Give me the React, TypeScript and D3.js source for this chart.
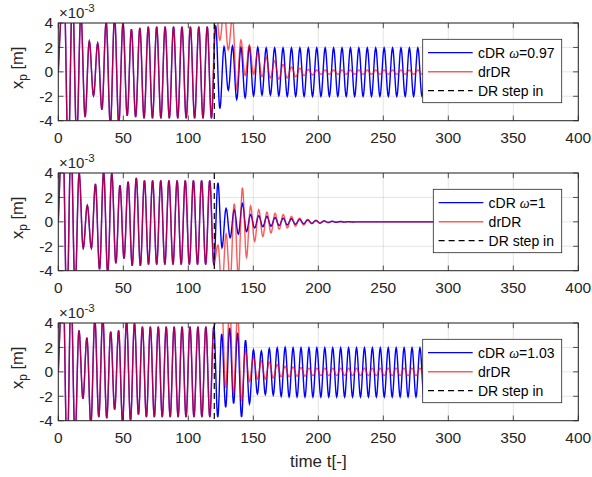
import React from 'react';
import * as d3 from 'd3';

// ---------- data (values in units of 1e-3 m) ----------
const xTicks = [0, 50, 100, 150, 200, 250, 300, 350, 400];
const yTicks = [-4, -2, 0, 2, 4];
const stepTime = 120;
const omegaLabels = ['0.97', '1', '1.03'];
const firstExtremumTimes = [4.4, 3.46, 3.7];
const halfPeriods = [3.24, 3.14, 3.05];

// extrema (alternating peak / trough) before the DR step-in (shared by both series)
const topPre = [7, -7, 6.5, -5.5, 4.8, -3.7, 2.5, -1.95, 2.35, -3.1, 4.1, -4.4, 4.5, -4.3, 4.0, -3.6, 3.5, -3.7,
  3.6, -3.8, 3.7, -3.8, 3.7, -3.8, 3.7, -3.8, 3.7, -3.8, 3.7, -3.8, 3.7, -3.8, 3.7, -3.8, 3.7, -3.8];
const topCdrPost = [3.8, -3.0, 2.05, -1.5, 2.1, -2.25, 2.0, -2.1, 2.05, -1.95, 2.0, -1.9, 1.95, -1.9, 1.95, -1.95,
  1.95, -2.0, 1.95, -2.0, 1.95, -2.0, 1.95, -2.0, 1.95, -2.0, 1.95, -2.0, 1.95, -2.0, 1.95, -2.0, 1.95, -2.0,
  1.95, -2.0, 1.95, -2.0, 1.95, -2.0, 1.95, -2.0, 1.95, -2.0, 1.95, -2.0, 1.95, -2.0, 1.95, -2.0, 1.95, -2.0,
  1.95, -2.0, 1.95, -2.0];
const topDrPost = [5.5, 2.6, 5.2, 1.8, 4.5, -1.4, 2.6, -0.3, 2.2, -0.2, 1.6, -0.4, 1.2, -0.5, 0.9, -0.6, 0.6, -0.5,
  0.4, -0.4, 0.3, -0.3, 0.2, -0.25, 0.15, -0.2, 0.15, -0.2, 0.15, -0.2, 0.15, -0.2, 0.15, -0.2, 0.15, -0.2,
  0.15, -0.2, 0.15, -0.2, 0.15, -0.2, 0.15, -0.2, 0.15, -0.2, 0.15, -0.2, 0.15, -0.2, 0.15, -0.2, 0.15, -0.2,
  0.15, -0.2];

const midPre = [7, -7, 6.5, -5.5, 4.0, -2.15, 1.35, -2.15, 3.1, -3.9, 4.1, -4.2, 4.0, -3.4, 3.0, -3.0, 3.3, -3.6,
  3.6, -3.6, 3.4, -3.5, 3.4, -3.5, 3.4, -3.5, 3.4, -3.5, 3.4, -3.5, 3.4, -3.5, 3.4, -3.5, 3.4, -3.5, 3.4, -3.5];
const midCdrPost = [3.2, -2.1, 1.1, -1.3, 1.0, -1.0, 1.5, -0.8, 0.6, -0.5, 0.5, -0.4, 0.45, -0.35, 0.35, -0.3,
  0.3, -0.25, 0.25, -0.2, 0.2, -0.15, 0.15, -0.12, 0.12, -0.1, 0.08, -0.06, 0.05, -0.04, 0.03, -0.02, 0.02, -0.01,
  0, 0, 0, 0, 0, 0, 0, 0, 0, 0, 0, 0, 0, 0, 0, 0, 0, 0, 0, 0, 0, 0, 0];
const midDrPost = [-1.9, -5.5, -1.0, -5.0, 1.5, -4.5, 2.8, -2.9, 1.3, -1.6, 1.0, -1.2, 0.8, -0.9, 0.7, -0.6,
  0.6, -0.5, 0.45, -0.35, 0.3, -0.25, 0.2, -0.15, 0.1, -0.08, 0.05, -0.03, 0.02, -0.01,
  0, 0, 0, 0, 0, 0, 0, 0, 0, 0, 0, 0, 0, 0, 0, 0, 0, 0, 0, 0, 0, 0, 0, 0, 0, 0, 0];

const botPre = [7, -7, 6.5, -5.5, 3.4, -2.2, 2.8, -4.3, 4.3, -3.7, 4.5, -3.8, 3.3, -3.1, 3.4, -4.1, 4.2, -4.0,
  4.0, -3.5, 3.7, -3.7, 3.7, -3.7, 3.7, -3.7, 3.7, -3.7, 3.7, -3.7, 3.7, -3.7, 3.7, -3.7, 3.7, -3.7, 3.7, -3.7, 3.7];
const botCdrPost = [-3.7, 3.1, -2.9, 3.6, -2.6, 3.2, -3.7, 2.6, -2.6, 1.8, -1.8, 1.7, -1.85, 1.9, -1.9, 1.95,
  -2.0, 2.0, -2.05, 1.95, -2.05, 1.95, -2.05, 1.95, -2.05, 1.95, -2.05, 1.95, -2.05, 1.95, -2.05, 1.95, -2.05,
  1.95, -2.05, 1.95, -2.05, 1.95, -2.05, 1.95, -2.05, 1.95, -2.05, 1.95, -2.05, 1.95, -2.05, 1.95, -2.05, 1.95,
  -2.05, 1.95, -2.05, 1.95, -2.05, 1.95, -2.05, 1.95, -2.05];
const botDrPost = [4.8, 5.5, -1.3, 5.5, -1.8, 4.8, -2.4, 1.7, -0.8, 1.2, -0.6, 0.9, -0.6, 0.8, -0.5, 0.6, -0.4,
  0.45, -0.4, 0.4, -0.35, 0.35, -0.35, 0.3, -0.3, 0.3, -0.3, 0.3, -0.3, 0.3, -0.3, 0.3, -0.3, 0.3, -0.3, 0.3,
  -0.3, 0.3, -0.3, 0.3, -0.3, 0.3, -0.3, 0.3, -0.3, 0.3, -0.3, 0.3, -0.3, 0.3, -0.3, 0.3, -0.3, 0.3, -0.3, 0.3,
  -0.3, 0.3, -0.3];

const preSets = [topPre, midPre, botPre];
const cdrPostSets = [topCdrPost, midCdrPost, botCdrPost];
const drPostSets = [topDrPost, midDrPost, botDrPost];

// ---------- layout ----------
const W = 592, H = 477;
const left = 58.3, right = 578.3;
const panelTops = [23, 173, 323];
const panelH = 97.7;
const legendLefts = [422.7, 433.3, 422.7];
const legendRight = 561.7;
const axisColor = '#262626';
const font = 'Liberation Sans, Arial, Helvetica, sans-serif';

function buildCurve(ext: number[], t0: number, half: number): [number, number][] {
  const pts: [number, number][] = [];
  const n = 10;
  for (let i = 0; i <= n; i++) {
    pts.push([(t0 * i) / n, ext[0] * Math.sin((Math.PI / 2) * (i / n))]);
  }
  for (let k = 0; k < ext.length - 1; k++) {
    const a = ext[k], b = ext[k + 1], ta = t0 + k * half;
    for (let i = 1; i <= n; i++) {
      const s = i / n;
      pts.push([ta + s * half, a + ((b - a) * (1 - Math.cos(Math.PI * s))) / 2]);
    }
  }
  return pts;
}

const x = d3.scaleLinear().domain([0, 400]).range([left, right]);

function Panel({ idx }: { idx: number }) {
  const top = panelTops[idx];
  const bottom = top + panelH;
  const y = d3.scaleLinear().domain([-4, 4]).range([bottom, top]);
  const t0 = firstExtremumTimes[idx];
  const half = halfPeriods[idx];
  const cdr = buildCurve(preSets[idx].concat(cdrPostSets[idx]), t0, half);
  const dr = buildCurve(preSets[idx].concat(drPostSets[idx]), t0, half);
  const line = d3.line<[number, number]>().x(d => x(d[0])).y(d => y(d[1]));
  const clipId = `clip${idx}`;
  const lgL = legendLefts[idx];
  const lgT = top + 16.3;
  const rows = [lgT + 13.4, lgT + 32.4, lgT + 51.4];
  const tick = 5.2;
  return (
    <g>
      <defs>
        <clipPath id={clipId}>
          <rect x={left} y={top} width={right - left} height={panelH} />
        </clipPath>
      </defs>
      <rect x={left} y={top} width={right - left} height={panelH} fill="#fff" />
      {xTicks.map(t => (
        <line key={'gx' + t} x1={x(t)} x2={x(t)} y1={top} y2={bottom} stroke={axisColor} strokeOpacity={0.15} strokeWidth={0.8} />
      ))}
      {yTicks.map(t => (
        <line key={'gy' + t} x1={left} x2={right} y1={y(t)} y2={y(t)} stroke={axisColor} strokeOpacity={0.15} strokeWidth={0.8} />
      ))}
      <g clipPath={`url(#${clipId})`}>
        <path d={line(cdr) || ''} fill="none" stroke="#0000ff" strokeWidth={1.4} />
        <path d={line(dr) || ''} fill="none" stroke="#ff0000" strokeOpacity={0.65} strokeWidth={1.4} />
        <line x1={x(stepTime)} x2={x(stepTime)} y1={top} y2={bottom} stroke="#000" strokeWidth={1.2} strokeDasharray="6,4" />
      </g>
      {/* ticks */}
      {xTicks.map(t => (
        <g key={'tx' + t}>
          <line x1={x(t)} x2={x(t)} y1={bottom} y2={bottom - tick} stroke={axisColor} strokeWidth={0.8} />
          <line x1={x(t)} x2={x(t)} y1={top} y2={top + tick} stroke={axisColor} strokeWidth={0.8} />
          <text x={x(t)} y={bottom + 22.7} textAnchor="middle" fontSize={15.5} fontFamily={font} fill={axisColor}>{t}</text>
        </g>
      ))}
      {yTicks.map(t => (
        <g key={'ty' + t}>
          <line x1={left} x2={left + tick} y1={y(t)} y2={y(t)} stroke={axisColor} strokeWidth={0.8} />
          <line x1={right} x2={right - tick} y1={y(t)} y2={y(t)} stroke={axisColor} strokeWidth={0.8} />
          <text x={53} y={y(t) + 5.4} textAnchor="end" fontSize={15.5} fontFamily={font} fill={axisColor}>{t}</text>
        </g>
      ))}
      <rect x={left} y={top} width={right - left} height={panelH} fill="none" stroke={axisColor} strokeWidth={1} />
      {/* exponent */}
      <text x={59} y={top - 5} fontSize={15} fontFamily={font} fill={axisColor}>
        ×10<tspan dy={-6.5} fontSize={11.5}>-3</tspan>
      </text>
      {/* y label */}
      <text transform={`translate(23,${(top + bottom) / 2 - 4}) rotate(-90)`} textAnchor="middle" fontSize={16.5} fontFamily={font} fill={axisColor}>
        x<tspan dy={4} fontSize={12}>p</tspan><tspan dy={-4}> [m]</tspan>
      </text>
      {/* legend */}
      <rect x={lgL} y={lgT} width={legendRight - lgL} height={63.4} fill="#fff" stroke={axisColor} strokeWidth={0.8} />
      <line x1={lgL + 5.3} x2={lgL + 50} y1={rows[0]} y2={rows[0]} stroke="#0000ff" strokeWidth={1.2} />
      <line x1={lgL + 5.3} x2={lgL + 50} y1={rows[1]} y2={rows[1]} stroke="#ff0000" strokeOpacity={0.65} strokeWidth={1.4} />
      <line x1={lgL + 5.3} x2={lgL + 50} y1={rows[2]} y2={rows[2]} stroke="#000" strokeWidth={1.2} strokeDasharray="6,4" />
      <text x={lgL + 55.3} y={rows[0] + 5} fontSize={14} fontFamily={font} fill="#000">
        cDR <tspan fontStyle="italic" fontFamily="Liberation Serif, serif">ω</tspan>={omegaLabels[idx]}
      </text>
      <text x={lgL + 55.3} y={rows[1] + 5} fontSize={14} fontFamily={font} fill="#000">drDR</text>
      <text x={lgL + 55.3} y={rows[2] + 5} fontSize={14} fontFamily={font} fill="#000">DR step in</text>
    </g>
  );
}

export default function App() {
  return (
    <svg width={W} height={H} viewBox={`0 0 ${W} ${H}`} style={{ position: 'absolute', left: 0, top: 0, background: '#fff' }}>
      <rect width={W} height={H} fill="#fff" />
      {[0, 1, 2].map(i => <Panel key={i} idx={i} />)}
      <text x={(left + right) / 2} y={467} textAnchor="middle" fontSize={17} fontFamily={font} fill={axisColor}>time t[-]</text>
    </svg>
  );
}
